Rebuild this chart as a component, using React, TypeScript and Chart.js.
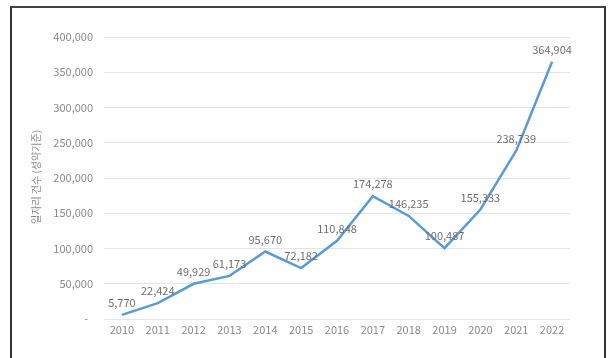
import React, { useEffect, useRef } from "react";
import { Chart, registerables } from "chart.js";

Chart.register(...registerables);

const years = ["2010","2011","2012","2013","2014","2015","2016","2017","2018","2019","2020","2021","2022"];
const jobCounts = [5770, 22424, 49929, 61173, 95670, 72182, 110848, 174278, 146235, 100487, 155333, 238739, 364904];
const yAxisTitle = "일자리 건수 (성약기준)";
const yMax = 400000;
const yStep = 50000;

const FONT = "'Noto Sans CJK KR', 'Noto Sans', sans-serif";

const overlayPlugin = {
  id: "overlay",
  afterDatasetsDraw(chart: any) {
    const ctx = chart.ctx;
    const meta = chart.getDatasetMeta(0);
    ctx.save();
    ctx.font = `11px ${FONT}`;
    ctx.fillStyle = "#6e6e6e";
    ctx.textAlign = "center";
    ctx.textBaseline = "middle";
    meta.data.forEach((pt: any, i: number) => {
      ctx.fillText(jobCounts[i].toLocaleString("en-US"), pt.x, pt.y - 12);
    });
    ctx.translate(36, 177);
    ctx.rotate(-Math.PI / 2);
    ctx.font = `10px ${FONT}`;
    ctx.fillStyle = "#8a8a8a";
    ctx.fillText(yAxisTitle, 0, 0);
    ctx.restore();
  },
};

export default function App() {
  const ref = useRef<HTMLCanvasElement>(null);
  useEffect(() => {
    document.body.style.margin = "0";
    const chart = new Chart(ref.current!, {
      type: "line",
      data: {
        labels: years,
        datasets: [
          {
            data: jobCounts,
            borderColor: "#5B9BD5",
            borderWidth: 2.5,
            pointRadius: 0,
            tension: 0,
            fill: false,
          },
        ],
      },
      options: {
        responsive: false,
        animation: false,
        layout: { padding: { left: 0, top: 37, right: 38, bottom: 14 } },
        plugins: { legend: { display: false }, tooltip: { enabled: false } },
        scales: {
          x: {
            offset: true,
            grid: { display: false, drawTicks: false },
            border: { display: false },
            ticks: { color: "#8a8a8a", font: { family: FONT, size: 11 }, padding: 4, maxRotation: 0 },
            afterFit: (s: any) => { s.height = 25; },
          },
          y: {
            min: 0,
            max: yMax,
            grid: { color: "#e4e4e4", drawTicks: false },
            border: { display: false },
            ticks: {
              stepSize: yStep,
              color: "#8a8a8a",
              font: { family: FONT, size: 11 },
              padding: 11,
              callback: (v: any) => (v === 0 ? "-  " : Number(v).toLocaleString("en-US")),
            },
            afterFit: (s: any) => { s.width = 104; },
          },
        },
      },
      plugins: [overlayPlugin],
    });
    return () => chart.destroy();
  }, []);
  return (
    <div style={{ position: "absolute", left: 0, top: 0, width: 608, height: 358, background: "#fff", overflow: "hidden" }}>
      <canvas ref={ref} width={608} height={358} style={{ position: "absolute", left: 0, top: 0 }} />
      <div style={{ position: "absolute", left: 10, top: 6, width: 592, height: 370, borderLeft: "2px solid #333", borderTop: "2px solid #444", borderRight: "2px solid #333", pointerEvents: "none" }} />
    </div>
  );
}
